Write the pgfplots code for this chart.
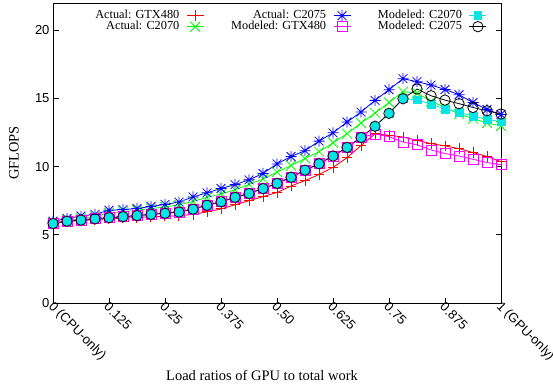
\documentclass[border=0pt]{standalone}
\usepackage{fontspec}
\setmainfont{Liberation Serif}
\newfontfamily\tickfont{Liberation Sans}
\usepackage{pgfplots}
\pgfplotsset{compat=1.18}
\definecolor{gRed}{RGB}{255,0,0}
\definecolor{gGreen}{RGB}{0,255,0}
\definecolor{gBlue}{RGB}{0,0,255}
\definecolor{gMag}{RGB}{255,0,255}
\definecolor{gCyan}{RGB}{0,230,230}
\pgfdeclareplotmark{pluscross}{%
  \pgfpathmoveto{\pgfpoint{\pgfplotmarksize}{0pt}}\pgfpathlineto{\pgfpoint{-\pgfplotmarksize}{0pt}}%
  \pgfpathmoveto{\pgfpoint{0pt}{\pgfplotmarksize}}\pgfpathlineto{\pgfpoint{0pt}{-\pgfplotmarksize}}%
  \pgfpathmoveto{\pgfpoint{0.8\pgfplotmarksize}{0.8\pgfplotmarksize}}\pgfpathlineto{\pgfpoint{-0.8\pgfplotmarksize}{-0.8\pgfplotmarksize}}%
  \pgfpathmoveto{\pgfpoint{-0.8\pgfplotmarksize}{0.8\pgfplotmarksize}}\pgfpathlineto{\pgfpoint{0.8\pgfplotmarksize}{-0.8\pgfplotmarksize}}%
  \pgfusepathqstroke}
\pgfdeclareplotmark{gplus}{%
  \pgfpathmoveto{\pgfpoint{\pgfplotmarksize}{0pt}}\pgfpathlineto{\pgfpoint{-\pgfplotmarksize}{0pt}}%
  \pgfpathmoveto{\pgfpoint{0pt}{\pgfplotmarksize}}\pgfpathlineto{\pgfpoint{0pt}{-\pgfplotmarksize}}%
  \pgfusepathqstroke}

\pgfplotstableread{
x y
0 5.80
1 5.98
2 6.05
3 6.12
4 6.18
5 6.22
6 6.28
7 6.32
8 6.36
9 6.40
10 6.50
11 6.68
12 6.90
13 7.20
14 7.50
15 7.80
16 8.10
17 8.58
18 8.98
19 9.42
20 9.95
21 10.65
22 11.55
23 12.40
24 12.30
25 12.17
26 11.93
27 11.69
28 11.52
29 11.32
30 11.03
31 10.75
32 10.36
}\actGTX

\pgfplotstableread{
x y
0 5.90
1 6.05
2 6.20
3 6.35
4 6.60
5 6.70
6 6.80
7 6.92
8 7.05
9 7.20
10 7.45
11 7.75
12 8.00
13 8.30
14 8.70
15 9.10
16 9.60
17 10.08
18 10.60
19 11.10
20 11.75
21 12.42
22 13.20
23 13.92
24 14.70
25 15.50
26 15.40
27 14.78
28 14.35
29 13.85
30 13.52
31 13.20
32 12.98
}\actCsev

\pgfplotstableread{
x y
0 6.00
1 6.20
2 6.38
3 6.50
4 6.80
5 6.85
6 6.93
7 7.08
8 7.23
9 7.40
10 7.78
11 8.08
12 8.40
13 8.68
14 9.03
15 9.50
16 10.20
17 10.74
18 11.17
19 11.87
20 12.48
21 13.27
22 14.00
23 14.86
24 15.64
25 16.45
26 16.23
27 15.98
28 15.66
29 15.27
30 14.70
31 14.19
32 13.82
}\actCsevfive

\pgfplotstableread{
x y
0 5.83
1 6.00
2 6.08
3 6.17
4 6.26
5 6.33
6 6.41
7 6.50
8 6.58
9 6.67
10 6.88
11 7.17
12 7.42
13 7.75
14 8.03
15 8.39
16 8.77
17 9.22
18 9.74
19 10.21
20 10.78
21 11.41
22 12.14
23 12.40
24 12.20
25 11.80
26 11.60
27 11.22
28 10.96
29 10.78
30 10.54
31 10.30
32 10.14
}\modGTX

\pgfplotstableread{
x y
0 5.83
1 6.00
2 6.08
3 6.17
4 6.26
5 6.33
6 6.41
7 6.50
8 6.58
9 6.67
10 6.88
11 7.17
12 7.42
13 7.75
14 8.03
15 8.39
16 8.77
17 9.22
18 9.74
19 10.21
20 10.78
21 11.41
22 12.14
23 12.96
24 13.91
25 14.98
26 14.90
27 14.58
28 14.22
29 13.99
30 13.68
31 13.49
32 13.28
}\modCsev

\pgfplotstableread{
x y
0 5.83
1 6.00
2 6.08
3 6.17
4 6.26
5 6.33
6 6.41
7 6.50
8 6.58
9 6.67
10 6.88
11 7.17
12 7.42
13 7.75
14 8.03
15 8.39
16 8.77
17 9.22
18 9.74
19 10.21
20 10.78
21 11.41
22 12.14
23 12.96
24 13.91
25 14.98
26 15.69
27 15.20
28 14.88
29 14.62
30 14.34
31 14.10
32 13.86
}\modCsevfive

\begin{document}
\begin{tikzpicture}
\useasboundingbox (-53bp,-85bp) rectangle (500bp,303bp);
\begin{axis}[
  at={(0,0)}, anchor=south west,
  scale only axis, width=448bp, height=300bp,
  xmin=0, xmax=32, ymin=0, ymax=22,
  xtick={0,4,...,32},
  xticklabels={0 (CPU-only),0.125,0.25,0.375,0.50,0.625,0.75,0.875,1 (GPU-only)},
  ytick={0,5,10,15,20},
  xtick pos=bottom, ytick pos=both,
  tick align=inside,
  major tick length=5.5bp,
  axis line style={line width=0.8bp},
  tick style={line width=0.8bp, black},
  /pgf/number format/assume math mode=true,
  ticklabel style={font=\tickfont\fontsize{13bp}{15bp}\selectfont},
  xticklabel style={rotate=-45, anchor=west, yshift=-3bp, xshift=-4bp},
  xlabel={Load ratios of GPU to total work},
  ylabel={GFLOPS},
  label style={font=\fontsize{14.5bp}{17bp}\selectfont},
  xlabel style={at={(axis description cs:0.4665,-0.243)}, anchor=center},
  ylabel style={at={(axis description cs:-0.087,0.5)}, anchor=center},
  every axis plot/.append style={line width=0.8bp},
  legend cell align=right,
  legend plot pos=right,
  transpose legend,
  legend columns=2,
  legend style={at={(rel axis cs:1,1)}, anchor=north east, xshift=-14bp, yshift=-7bp,
    draw=none, fill=none, inner sep=0pt, row sep=0pt,
    font=\fontsize{12.3bp}{11bp}\selectfont,
    nodes={inner sep=0pt, text height=8.5bp, text depth=2.5bp},
    /tikz/every odd column/.append style={column sep=7bp},
    /tikz/every even column/.append style={column sep=27bp}},
]
\addplot[color=gRed, line width=0.85bp, mark=gplus, mark size=5.2bp, mark options={color=gRed, line width=1bp}] table {\actGTX};
\addlegendentry{Actual: GTX480}
\addplot[color=gGreen, mark=x, mark size=7bp, mark options={color=gGreen}] table {\actCsev};
\addlegendentry{Actual: C2070}
\addplot[color=gBlue, mark=pluscross, mark size=5.5bp, mark options={color=gBlue}] table {\actCsevfive};
\addlegendentry{Actual: C2075}
\addplot[color=gMag, mark=square, mark size=5bp, mark options={color=gMag}] table {\modGTX};
\addlegendentry{Modeled: GTX480}
\addplot[color=gCyan, mark=square*, mark size=3.9bp, mark options={color=gCyan, fill=gCyan}] table {\modCsev};
\addlegendentry{Modeled: C2070}
\addplot[color=black, mark=o, mark size=5.2bp] table {\modCsevfive};
\addlegendentry{Modeled: C2075}
\end{axis}
\end{tikzpicture}
\end{document}
